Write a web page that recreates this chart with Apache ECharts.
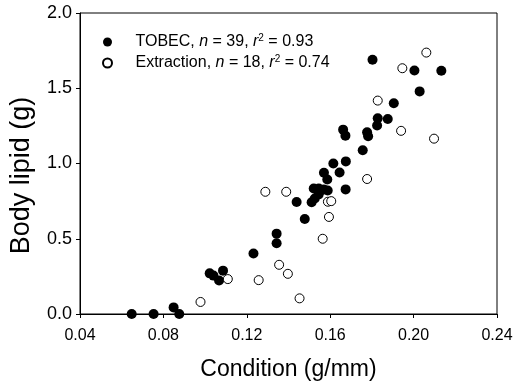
<!DOCTYPE html>
<html>
<head>
<meta charset="utf-8">
<script src="https://cdn.jsdelivr.net/npm/echarts@6/dist/echarts.min.js"></script>
<style>
html,body{margin:0;padding:0;background:#fff;}
#chart{width:525px;height:386px;}
</style>
</head>
<body>
<div id="chart"></div>
<script>
// TOBEC series (filled circles)
const tobecX = [0.0648,0.0753,0.0849,0.0876,0.1022,0.1040,0.1067,0.1086,0.1232,0.1343,0.1343,0.1439,0.1478,0.1511,0.1526,0.1545,0.1521,0.1545,0.1569,0.1588,0.1570,0.1586,0.1615,0.1645,0.1675,0.1674,0.1756,0.1662,0.1673,0.1777,0.1782,0.1828,0.1825,0.1876,0.1905,0.1803,0.2004,0.2133,0.2029];
const tobecY = [0,0,0.044,0,0.27,0.255,0.222,0.288,0.402,0.534,0.470,0.744,0.631,0.742,0.768,0.795,0.834,0.834,0.828,0.821,0.938,0.894,1.0,0.940,1.014,0.828,1.088,1.225,1.185,1.207,1.181,1.300,1.252,1.296,1.40,1.689,1.618,1.616,1.479];
// Extraction series (open circles)
const extX = [0.0978,0.1109,0.1257,0.1289,0.1355,0.1389,0.1397,0.1453,0.1564,0.1594,0.1589,0.1605,0.1777,0.1828,0.1940,0.1946,0.2061,0.2098];
const extY = [0.080,0.232,0.225,0.812,0.327,0.812,0.267,0.104,0.500,0.645,0.746,0.750,0.897,1.418,1.217,1.633,1.737,1.165];

const seriesNames = ['TOBEC', 'Extraction'];
const seriesN = [39, 18];
const seriesR2 = ['0.93', '0.74'];

const xTicks = {min: 0.04, max: 0.24, interval: 0.04};
const yTicks = {min: 0, max: 2.0, interval: 0.5};
const xTitle = 'Condition (g/mm)';
const yTitle = 'Body lipid (g)';

const FONT = 'Liberation Sans, Arial, sans-serif';

function pairs(xs, ys) { return xs.map((x, i) => [x, ys[i]]); }

const chart = echarts.init(document.getElementById('chart'), null, {renderer: 'canvas'});
chart.setOption({
  backgroundColor: '#fff',
  animation: false,
  textStyle: {fontFamily: FONT, color: '#000'},
  grid: {left: 78, right: 28, top: 13, bottom: 71, show: true, borderColor: '#000', borderWidth: 1, backgroundColor: 'transparent'},
  legend: {
    orient: 'vertical',
    left: 97,
    top: 28,
    itemWidth: 46,
    itemHeight: 9,
    itemGap: 4,
    data: seriesNames,
    formatter: function (name) {
      const i = seriesNames.indexOf(name);
      return '{a|' + name + ', }{i|n}{a| = ' + seriesN[i] + ', }{i|r}{s|2}{a| = ' + seriesR2[i] + '}';
    },
    textStyle: {
      fontFamily: FONT,
      color: '#000',
      fontSize: 16,
      rich: {
        a: {fontFamily: FONT, fontSize: 16, color: '#000', lineHeight: 18},
        i: {fontFamily: FONT, fontSize: 16, color: '#000', fontStyle: 'italic', lineHeight: 18},
        s: {fontFamily: FONT, fontSize: 10, color: '#000', lineHeight: 10, verticalAlign: 'top'}
      }
    }
  },
  xAxis: {
    type: 'value',
    min: xTicks.min, max: xTicks.max, interval: xTicks.interval,
    name: xTitle,
    nameLocation: 'middle',
    nameGap: 44,
    nameTextStyle: {fontFamily: FONT, fontSize: 23, color: '#000'},
    axisLine: {show: true, onZero: false, lineStyle: {color: '#000', width: 1}},
    axisTick: {show: true, inside: false, length: 4, lineStyle: {color: '#000'}},
    axisLabel: {fontFamily: FONT, fontSize: 16, color: '#000', margin: 14, formatter: v => v.toFixed(2)},
    splitLine: {show: false}
  },
  yAxis: {
    type: 'value',
    min: yTicks.min, max: yTicks.max, interval: yTicks.interval,
    name: yTitle,
    nameLocation: 'middle',
    nameGap: 45,
    nameTextStyle: {fontFamily: FONT, fontSize: 27, color: '#000', padding: [0, 24, 0, 0]},
    axisLine: {show: true, onZero: false, lineStyle: {color: '#000', width: 1}},
    axisTick: {show: true, inside: false, length: 4, lineStyle: {color: '#000'}},
    axisLabel: {fontFamily: FONT, fontSize: 18, color: '#000', margin: 8, formatter: v => v.toFixed(1)},
    splitLine: {show: false}
  },
  series: [
    {
      name: seriesNames[0],
      type: 'scatter',
      symbol: 'circle',
      symbolSize: 10,
      data: pairs(tobecX, tobecY),
      itemStyle: {color: '#000', opacity: 1},
      emphasis: {disabled: true}
    },
    {
      name: seriesNames[1],
      type: 'scatter',
      symbol: 'circle',
      symbolSize: 9,
      data: pairs(extX, extY),
      itemStyle: {color: '#fff', borderColor: '#000', borderWidth: 1, opacity: 1},
      emphasis: {disabled: true}
    }
  ]
});
</script>
</body>
</html>
